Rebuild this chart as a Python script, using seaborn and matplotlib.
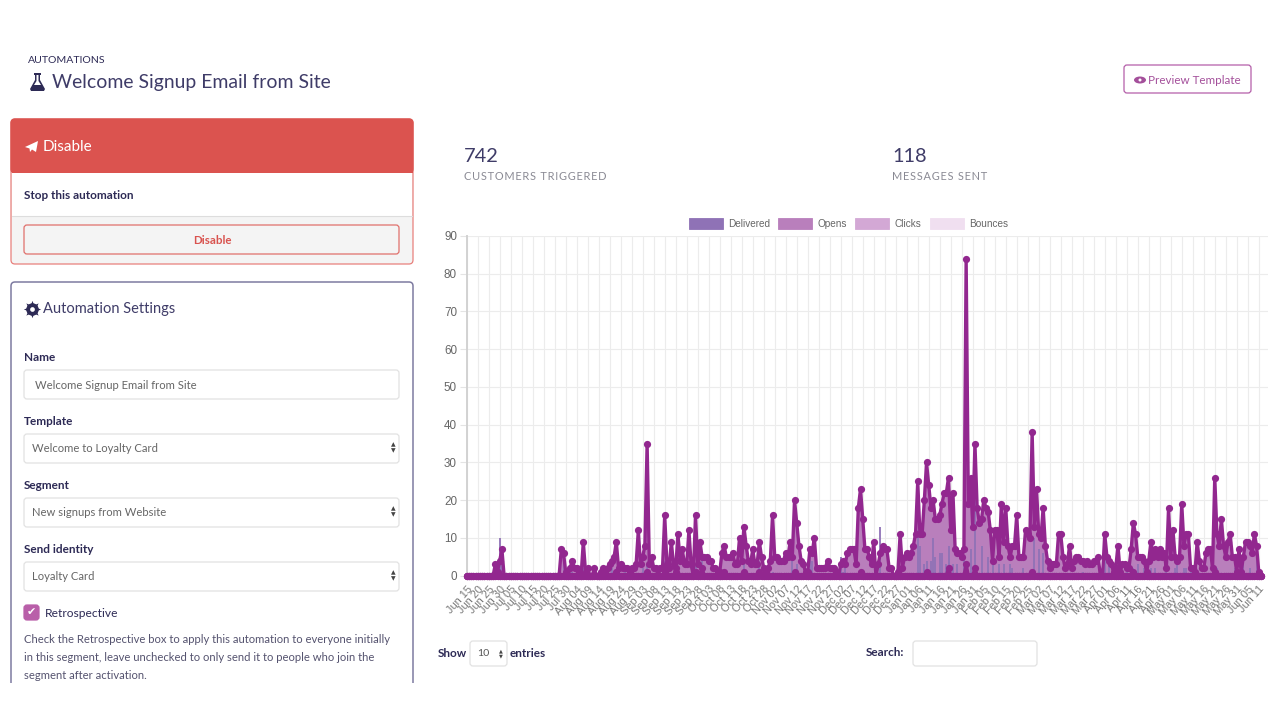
import seaborn as sns
import matplotlib.pyplot as plt
import pandas as pd
from matplotlib.patches import FancyBboxPatch, Rectangle, Polygon, Ellipse

# ---- chart values, one row per 5 days ----

opens = [
    0, 0, 0, 0, 0,  0, 0, 0, 0, 0,
    0, 0, 0, 3, 1,  4, 7, 0, 0, 0,
    0, 0, 0, 0, 0,  0, 0, 0, 0, 0,
    0, 0, 0, 0, 0,  0, 0, 0, 0, 0,
    0, 0, 0, 7, 6,  1, 0, 2, 4, 2,
    2, 1, 0, 9, 1,  2, 0, 0, 2, 0,
    0, 1, 2, 1, 2,  3, 4, 5, 9, 2,
    3, 2, 2, 2, 1,  2, 2, 3, 12, 3,
    5, 8, 35, 3, 5,  2, 2, 0, 2, 2,
    16, 3, 2, 9, 3,  2, 11, 4, 7, 3,
    3, 12, 3, 0, 16,  3, 9, 5, 5, 5,
    4, 4, 2, 2, 1,  1, 6, 8, 5, 5,
    5, 6, 3, 3, 10,  4, 13, 8, 4, 3,
    7, 3, 3, 9, 5,  2, 1, 2, 4, 16,
    5, 5, 4, 4, 4,  6, 5, 9, 5, 20,
    14, 8, 4, 3, 1,  1, 7, 6, 10, 2,
    2, 2, 2, 2, 4,  2, 2, 2, 1, 0,
    3, 4, 3, 6, 7,  7, 7, 3, 18, 23,
    15, 7, 7, 5, 3,  9, 0, 3, 6, 8,
    7, 7, 2, 2, 0,  0, 1, 11, 2, 5,
    6, 5, 6, 8, 11,  25, 11, 11, 20, 30,
    24, 18, 20, 15, 15,  16, 19, 22, 22, 26,
    12, 22, 7, 6, 6,  5, 7, 84, 19, 26,
    13, 35, 18, 14, 15,  20, 18, 17, 12, 4,
    12, 12, 5, 19, 9,  18, 8, 5, 8, 8,
    16, 5, 5, 5, 12,  11, 10, 38, 13, 23,
    11, 10, 18, 8, 4,  2, 3, 3, 3, 11,
    11, 5, 2, 3, 8,  2, 4, 5, 5, 4,
    4, 3, 4, 3, 3,  4, 4, 5, 0, 0,
    11, 5, 4, 3, 1,  2, 8, 1, 3, 3,
    2, 2, 7, 14, 11,  5, 5, 5, 4, 1,
    4, 9, 5, 7, 5,  7, 5, 6, 2, 18,
    5, 12, 5, 4, 5,  19, 8, 11, 11, 2,
    2, 1, 9, 4, 2,  2, 6, 7, 7, 2,
    26, 11, 8, 15, 8,  5, 9, 11, 5, 5,
    1, 7, 1, 5, 9,  9, 8, 6, 11, 8,
    1, 0,
]

delivered_days = [13, 15, 16, 44, 48, 53, 66, 72, 80, 81, 82, 90, 95, 104, 107, 117,
                  126, 133, 139, 148, 150, 156, 157, 170, 171, 172, 188, 205, 206, 208,
                  209, 211, 212, 213, 215, 216, 218, 219, 221, 223, 226, 229, 231, 234,
                  237, 239, 242, 244, 247, 248, 253, 258, 260, 262, 280, 290, 292, 295,
                  297, 298, 300, 303, 305, 308, 311, 313, 318, 322, 323, 326, 327, 329,
                  341, 349, 353, 356, 359]
delivered_values = [1, 10, 5, 3, 1, 2, 2, 1, 2, 1, 3, 4, 2, 3, 5, 1,
                    3, 4, 1, 5, 3, 7, 4, 5, 1, 3, 13, 12, 8, 3,
                    4, 4, 10, 5, 6, 6, 3, 8, 3, 3, 5, 7, 20, 8,
                    5, 4, 3, 3, 3, 2, 2, 10, 7, 6, 1, 5, 3, 2,
                    1, 1, 1, 2, 3, 2, 2, 2, 3, 2, 3, 2, 2, 1,
                    2, 2, 5, 2, 8]

clicks_days = [68, 82, 90, 95, 104, 107, 117, 126, 133, 149, 179, 209, 219, 227, 231, 257, 303, 340]
clicks_values = [1, 1, 1, 1, 1, 2, 1, 1, 1, 1, 1, 1, 2, 3, 2, 1, 1, 1]

tick_labels = ['Jun 15', 'Jun 20', 'Jun 25', 'Jun 30', 'Jul 05', 'Jul 10', 'Jul 15', 'Jul 20', 'Jul 25', 'Jul 30',
               'Aug 04', 'Aug 09', 'Aug 14', 'Aug 19', 'Aug 24', 'Aug 29', 'Sep 03', 'Sep 08', 'Sep 13', 'Sep 18',
               'Sep 23', 'Sep 28', 'Oct 03', 'Oct 08', 'Oct 13', 'Oct 18', 'Oct 23', 'Oct 28', 'Nov 02', 'Nov 07',
               'Nov 12', 'Nov 17', 'Nov 22', 'Nov 27', 'Dec 02', 'Dec 07', 'Dec 12', 'Dec 17', 'Dec 22', 'Dec 27',
               'Jan 01', 'Jan 06', 'Jan 11', 'Jan 16', 'Jan 21', 'Jan 26', 'Jan 31', 'Feb 05', 'Feb 10', 'Feb 15',
               'Feb 20', 'Feb 25', 'Mar 02', 'Mar 07', 'Mar 12', 'Mar 17', 'Mar 22', 'Mar 27', 'Apr 01', 'Apr 06',
               'Apr 11', 'Apr 16', 'Apr 21', 'Apr 26', 'May 01', 'May 06', 'May 11', 'May 16', 'May 21', 'May 26',
               'May 31', 'Jun 05', 'Jun 11']

legend_names = ['Delivered', 'Opens', 'Clicks', 'Bounces']
legend_colors = ['#8f72b6', '#b97fbc', '#d3a8d5', '#f0dff0']

NAVY = '#2d2a55'
SOFT_NAVY = '#3f3c68'
PURPLE = '#92278f'

sns.set_theme(style='whitegrid')
plt.rcParams['font.family'] = ['Lato', 'DejaVu Sans']

df = pd.DataFrame({'day': range(len(opens)), 'Opens': opens})
df['Clicks'] = 0
df.loc[clicks_days, 'Clicks'] = clicks_values
df['Bounces'] = 0

fig = plt.figure(figsize=(12.8, 7.2), dpi=100, facecolor='white')

# ---- the page around the chart, in pixel coordinates ----

ui = fig.add_axes([0, 0, 1, 1])
ui.set_xlim(0, 1280)
ui.set_ylim(720, 0)
ui.axis('off')


def box(x0, y0, x1, y1, face='white', edge='#e2e2e2', lw=0.9, r=3):
    ui.add_patch(FancyBboxPatch((x0, y0), x1 - x0, y1 - y0, boxstyle=f'round,pad=0,rounding_size={r}',
                                facecolor=face, edgecolor=edge, linewidth=lw))


def label(x, y, s, size, color=NAVY, weight='normal', ha='left', family=None):
    ui.text(x, y + 0.5, s, fontsize=size * 0.72, color=color, fontweight=weight, ha=ha, va='center',
            family=family or ['Lato', 'DejaVu Sans'])


label(28, 60, 'AUTOMATIONS', 10.5)
ui.add_patch(Polygon([(34, 73), (41, 73), (41, 75), (40, 75), (40, 80), (45, 89), (44, 91), (31, 91), (30, 89),
                      (35, 80), (35, 75), (34, 75)], closed=True, facecolor=NAVY, edgecolor='none'))
ui.add_patch(Polygon([(36.5, 75), (38.5, 75), (38.5, 81), (41, 85), (34, 85), (36.5, 81)], closed=True,
                     facecolor='white', edgecolor='none'))
label(52, 82, 'Welcome Signup Email from Site', 19.4, color=SOFT_NAVY)

# red panel
box(11, 119, 413, 264, face='#f4f4f4', edge='#e8807c', r=4)
box(11, 119, 413, 173, face='#db534f', edge='#db534f', r=4)
ui.add_patch(Rectangle((11.5, 165), 401, 8, facecolor='#db534f', edgecolor='none'))
ui.add_patch(Rectangle((11.7, 173), 400.6, 43, facecolor='white', edgecolor='none'))
ui.plot([11.7, 412.3], [216, 216], color='#dddddd', lw=0.8)
ui.add_patch(Polygon([(25, 147), (38, 141), (36, 152), (32, 149.5), (30, 152), (29.5, 148.5)], closed=True,
                     facecolor='white', edgecolor='none'))
label(43, 146.5, 'Disable', 15.2, color='white')
label(24, 195, 'Stop this automation', 11.8, weight='bold')
box(24, 225, 399, 254, face='#f4f4f4', edge='#e0706c')
label(212, 240, 'Disable', 11.5, color='#d9534f', weight='bold', ha='center')

# settings panel, cut off at the bottom of the screenshot
box(11, 282, 413, 720, edge='#7d7aa0', lw=1.1, r=4)
ui.add_patch(Rectangle((0, 683), 1280, 37, facecolor='white', edgecolor='none', zorder=5))
ui.plot([31.5], [309], marker=(8, 1, 0), markersize=12.5, color=NAVY, markeredgewidth=0)
ui.plot([31.5], [309], marker='o', markersize=9, color=NAVY, markeredgewidth=0)
ui.plot([31.5], [309], marker='o', markersize=3.4, color='white', markeredgewidth=0)
label(43, 309, 'Automation Settings', 14.6, color=SOFT_NAVY)

label(24, 357, 'Name', 11.8, weight='bold')
box(24, 370, 399, 399)
label(35, 385, 'Welcome Signup Email from Site', 11.3, color='#666666')
form_rows = [(421, 434, 'Template', 'Welcome to Loyalty Card'),
             (485, 498, 'Segment', 'New signups from Website'),
             (549, 562, 'Send identity', 'Loyalty Card')]
for title_y, top, title, value in form_rows:
    label(24, title_y, title, 11.8, weight='bold')
    box(24, top, 399, top + 29)
    label(32, top + 14.5, value, 11.3, color='#666666')
    label(393, top + 10.5, '\u25b2', 6, color='#444444', ha='center', family='DejaVu Sans')
    label(393, top + 16.5, '\u25bc', 6, color='#444444', ha='center', family='DejaVu Sans')

box(24, 605, 39, 620, face='#b95fa9', edge='#b95fa9')
label(31.5, 611.5, '\u2714', 11, color='white', ha='center', family='DejaVu Sans')
label(45, 613, 'Retrospective', 12)
label(24, 639, 'Check the Retrospective box to apply this automation to everyone initially', 11.2, color='#55536f')
label(24, 657, 'in this segment, leave unchecked to only send it to people who join the', 11.2, color='#55536f')
label(24, 675, 'segment after activation.', 11.2, color='#55536f')

# right side
box(1124, 65, 1251, 93, edge='#b45fa9', lw=0.9)
ui.add_patch(Ellipse((1140, 80), 12, 7, facecolor='#a4509b', edgecolor='none'))
ui.add_patch(Ellipse((1140, 80), 3, 3, facecolor='white', edgecolor='none'))
label(1148, 79.5, 'Preview Template', 11.6, color='#a4509b')

label(464, 155.5, '742', 20, color=SOFT_NAVY)
label(464, 175.5, '\u200a'.join('CUSTOMERS TRIGGERED'), 11, color='#8a8a94')
label(892, 155.5, '118', 20, color=SOFT_NAVY)
label(892, 175.5, '\u200a'.join('MESSAGES SENT'), 11, color='#8a8a94')

legend_x = [689, 778, 855, 930]
for x, name, color in zip(legend_x, legend_names, legend_colors):
    ui.add_patch(Rectangle((x, 217.5), 34, 11, facecolor=color, edgecolor=color, lw=0.6))
    label(x + 39.5, 223.5, name, 10, color='#666666', family='Liberation Sans')

label(438, 653, 'Show', 11.8, weight='bold')
box(470, 641, 507, 666)
label(477, 653, '10', 10.5, color='#555555')
label(501, 650, '\u25b2', 5, color='#444444', ha='center', family='DejaVu Sans')
label(501, 655.5, '\u25bc', 5, color='#444444', ha='center', family='DejaVu Sans')
label(510, 653, 'entries', 11.8, weight='bold')
label(866, 652, 'Search:', 11.8, weight='bold')
box(913, 641, 1037, 666)

# ---- chart ----

ax = fig.add_axes([466.7 / 1280, 1 - 575.7 / 720, (1268 - 466.7) / 1280, (575.7 - 236) / 720])
ax.patch.set_alpha(0)

ax.fill_between(df['day'], df['Opens'], color=legend_colors[1], linewidth=0, zorder=1.1)
ax.fill_between(df['day'], df['Clicks'], color=legend_colors[2], linewidth=0, zorder=1.2)
ax.vlines(delivered_days, 0, delivered_values, color='#8f72b6', lw=1.3, zorder=1.3)

for name in ['Clicks', 'Opens', 'Bounces']:
    sns.lineplot(data=df, x='day', y=name, ax=ax, color=PURPLE, linewidth=2.4, marker='o', markersize=5.2,
                 markeredgewidth=0, estimator=None, errorbar=None, clip_on=False, zorder=3)

ax.set_xlim(0, 364.2)
ax.set_ylim(0, 90)
ax.set_xlabel('')
ax.set_ylabel('')
ax.set_yticks(range(0, 91, 10))
ax.set_xticks(range(0, 5 * len(tick_labels), 5))
ax.set_xticklabels(tick_labels, rotation=48, ha='right', rotation_mode='anchor')
ax.grid(True, color='#ececec', linewidth=0.8)
ax.set_axisbelow(True)
ax.tick_params(axis='y', length=5, width=0.8, color='#e4e4e4', labelcolor='#666666', labelsize=8.4, pad=2, left=True)
ax.tick_params(axis='x', length=3, width=0.8, color='#e4e4e4', labelcolor='#777777', labelsize=7.9, pad=3, bottom=True)
for tick in ax.get_xticklabels() + ax.get_yticklabels():
    tick.set_family('Liberation Sans')
sns.despine(ax=ax, top=True, right=True, bottom=True)
ax.spines['left'].set_color('#d2d2d2')
ax.spines['left'].set_linewidth(1.4)

fig.savefig('out.png', dpi=100)
